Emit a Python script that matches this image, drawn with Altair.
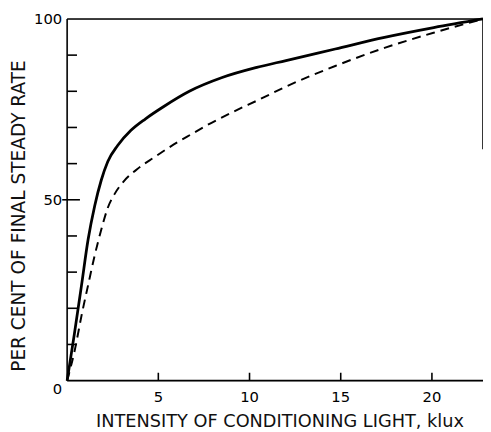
import altair as alt
import pandas as pd

# Curve readings (x: klux, y: per cent of final steady rate)
solid_x = [0, 0.4, 0.79, 1.15, 1.51, 1.87, 2.23, 2.77, 3.5, 4.3, 5.3, 6.7, 8.5, 10.4, 12.0, 14.7, 17.4, 20.1, 22.8]
solid_y = [0, 13, 26.4, 39.0, 48.3, 55.4, 60.6, 65.0, 69.2, 72.4, 75.8, 80.0, 83.8, 86.6, 88.5, 91.7, 94.9, 97.6, 100]

dashed_x = [0, 0.4, 0.83, 1.15, 1.51, 1.87, 2.23, 2.59, 3.14, 3.85, 4.76, 5.85, 6.8, 7.7, 9.3, 10.4, 12.0, 14.7, 17.4, 20.1, 22.8]
dashed_y = [0, 8, 19, 26.4, 34.6, 41.7, 47.8, 51.5, 55.3, 58.5, 61.7, 65.3, 68.1, 70.7, 74.8, 77.4, 81.3, 87, 92, 96.2, 100]

x_labels = [5, 10, 15, 20]
y_labels = [50, 100]
y_zero_label = [0]
y_minor_ticks = [10, 20, 30, 40, 60, 70, 80, 90]
y_major_ticks = [50]
x_ticks = [5, 10, 15, 20]
x_max = 22.8
right_border_top = 100
right_border_bottom = 64
x_title = ["INTENSITY OF CONDITIONING LIGHT, klux"]
y_title = ["PER CENT OF FINAL STEADY RATE"]

FONT = "DejaVu Sans"
W, H = 422, 367
PX_X = x_max / W      # data units per pixel, x
PX_Y = 100 / H        # data units per pixel, y

xscale = alt.Scale(domain=[0, x_max], nice=False, zero=False)
yscale = alt.Scale(domain=[0, 100], nice=False)


def X(field="x"):
    return alt.X(f"{field}:Q", scale=xscale, axis=None)


def Y(field="y"):
    return alt.Y(f"{field}:Q", scale=yscale, axis=None)


# Frame and tick segments, built from the tick lists above
segments = []


def seg(name, x0, y0, x1, y1):
    segments.append({"seg": name, "x": x0, "y": y0})
    segments.append({"seg": name, "x": x1, "y": y1})


seg("left", 0, 0, 0, 100)
seg("bottom", 0, 0, x_max, 0)
seg("top", 0, 100, x_max, 100)
seg("right", x_max, right_border_bottom, x_max, right_border_top)
for v in y_minor_ticks:
    seg(f"ym{v}", 0, v, 10 * PX_X, v)
for v in y_major_ticks:
    seg(f"yM{v}", -5 * PX_X, v, 13 * PX_X, v)
for v in x_ticks:
    seg(f"xt{v}", v, 0, v, 8 * PX_Y)

frame = alt.Chart(pd.DataFrame(segments)).mark_line(
    color="black", strokeWidth=1.6
).encode(x=X(), y=Y(), detail="seg:N", order=alt.Order("y:Q"))

solid = alt.Chart(pd.DataFrame({"x": solid_x, "y": solid_y})).mark_line(
    color="black", strokeWidth=2.8, interpolate="monotone"
).encode(x=X(), y=Y())

dashed = alt.Chart(pd.DataFrame({"x": dashed_x, "y": dashed_y})).mark_line(
    color="black", strokeWidth=2.0, strokeDash=[9, 6], interpolate="monotone"
).encode(x=X(), y=Y())

# tick labels
y_text = alt.Chart(pd.DataFrame({"y": y_labels})).mark_text(
    font=FONT, fontSize=15, color="black", align="right", baseline="middle"
).encode(x=alt.value(-5), y=Y(), text=alt.Text("y:Q"))

y_zero_text = alt.Chart(pd.DataFrame({"y": y_zero_label})).mark_text(
    font=FONT, fontSize=15, color="black", align="right", baseline="middle", dy=9
).encode(x=alt.value(-5), y=Y(), text=alt.Text("y:Q"))

x_text = alt.Chart(pd.DataFrame({"xl": x_labels})).mark_text(
    font=FONT, fontSize=15, color="black", align="center", baseline="top"
).encode(x=X("xl"), y=alt.value(H + 10), text=alt.Text("xl:Q"))

# axis titles
x_title_text = alt.Chart(pd.DataFrame({"t": x_title})).mark_text(
    font=FONT, fontSize=18, color="#111", align="center", baseline="alphabetic"
).encode(x=alt.value(216), y=alt.value(H + 47), text="t:N")

y_title_text = alt.Chart(pd.DataFrame({"t": y_title})).mark_text(
    font=FONT, fontSize=18.8, color="#111", align="center", baseline="alphabetic", angle=270
).encode(x=alt.value(-43), y=alt.value(200), text="t:N")

chart = alt.layer(
    frame, solid, dashed, y_text, y_zero_text, x_text, x_title_text, y_title_text,
).properties(
    width=W, height=H,
    autosize=alt.AutoSizeParams(type="none"),
    padding={"left": 60, "top": 8, "right": 0, "bottom": 48},
).configure_view(stroke=None).configure(background="white")

chart.save("out.html", embed_options={"renderer": "svg", "actions": False})
